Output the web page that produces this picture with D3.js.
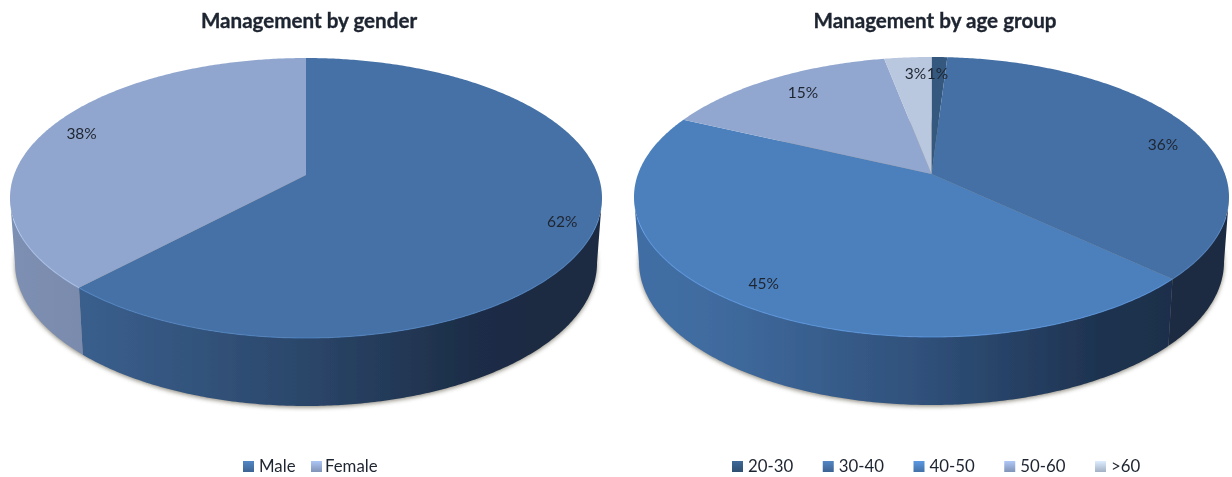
<!DOCTYPE html>
<html><head><meta charset="utf-8">
<script src="https://cdn.jsdelivr.net/npm/d3@7/dist/d3.min.js"></script>
<style>html,body{margin:0;padding:0;background:#fff}svg{display:block}text{font-family:Lato,"Open Sans",sans-serif;fill:#1f2530}</style>
</head><body><svg id="c" width="1232" height="477"></svg>
<script>
const genderCategories = ["Male", "Female"];
const genderValues = [62, 38];
const ageCategories = ["20-30", "30-40", "40-50", "50-60", ">60"];
const ageValues = [1, 36, 45, 15, 3];
const genderColors = ["#4571A6", "#91A6CE"];
const ageColors = ["#34597F", "#4570A5", "#4C80BD", "#92A7CF", "#B9C7DF"];
const genderLabelNudge = [[7, 0], [0, 0]];
const ageLabelNudge = [[-1, 3], [6, 12], [-5, -2], [12, 3], [5, 3]];

const svg = d3.select("#c");
const defs = svg.append("defs");
const blur = defs.append("filter").attr("id","soft").attr("x","-2%").attr("y","-5%").attr("width","104%").attr("height","110%");
blur.append("feGaussianBlur").attr("stdDeviation",0.55);
const sh = defs.append("filter").attr("id","shadow").attr("x","-5%").attr("y","-5%").attr("width","110%").attr("height","110%");
sh.append("feGaussianBlur").attr("stdDeviation",2.2);
const root = svg.append("g").attr("filter","url(#soft)");

const K = 0.164;
function projector(cx, cy, rx, ry) {
  const a = rx * Math.sqrt(1 - K * K);
  return (angle, r = 1) => {
    const u = r * Math.sin(angle), v = -r * Math.cos(angle), w = 1 - K * v;
    return [cx + a * u / w, cy + (ry * v - K * ry) / w];
  };
}
const shadeStops = [[0,.86],[.12,.84],[.3,.74],[.5,.62],[.65,.5],[.78,.4],[.9,.37],[1,.37]];
const line = d3.line();
function samples(a0, a1) {
  const n = Math.max(2, Math.ceil((a1 - a0) / 0.01));
  return d3.range(n + 1).map(i => a0 + (a1 - a0) * i / n);
}
// the part of the rim that faces the viewer: between the two silhouette angles
const rimStart = Math.acos(-K), rimEnd = 2 * Math.PI - Math.acos(-K);

function drawPie(id, title, titleX, values, cats, colors, nudge, geo, legendXs, legendTextXs) {
  const g = root.append("g");
  const top = projector(geo.cx, geo.cy, geo.rx, geo.ry);
  const bot = projector(geo.cx, geo.cyb, geo.rxb, geo.ryb);
  const color = d3.scaleOrdinal(cats, colors);
  const arcs = d3.pie().sort(null)(values);
  const x0 = geo.cx - geo.rx, x1 = geo.cx + geo.rx;

  // drop shadow under the body
  const all = samples(0, 2 * Math.PI);
  g.append("path").attr("d", line(all.map(a => { const p = bot(a); return [p[0], p[1] + 1.5]; })) + "Z")
    .attr("fill", "#6f6a5c").attr("opacity", .75).attr("filter", "url(#shadow)");

  // walls
  arcs.forEach((d, i) => {
    const a0 = Math.max(d.startAngle, rimStart), a1 = Math.min(d.endAngle, rimEnd);
    if (a1 <= a0) return;
    const c = color(cats[i]);
    const gid = `${id}-w${i}`;
    const lg = defs.append("linearGradient").attr("id", gid).attr("gradientUnits", "userSpaceOnUse")
      .attr("x1", x0).attr("x2", x1).attr("y1", 0).attr("y2", 0);
    shadeStops.forEach(([o, f]) => {
      const rgb = d3.rgb(c);
      lg.append("stop").attr("offset", o).attr("stop-color", d3.rgb(rgb.r * f, rgb.g * f, rgb.b * f + (1 - f) * 8).formatHex());
    });
    const s = samples(a0, a1);
    const pts = s.map(a => top(a)).concat(s.slice().reverse().map(a => bot(a)));
    g.append("path").attr("d", line(pts) + "Z").attr("fill", `url(#${gid})`);
  });

  // top faces
  arcs.forEach((d, i) => {
    const s = samples(d.startAngle, d.endAngle);
    const pts = [top(0, 0)].concat(s.map(a => top(a)));
    g.append("path").attr("d", line(pts) + "Z").attr("fill", color(cats[i]));
    const front = s.filter(a => -Math.cos(a) > 0.3);
    if (front.length > 1) {
      g.append("path").attr("d", line(front.map(a => top(a)))).attr("fill", "none")
        .attr("stroke", d3.rgb(color(cats[i])).brighter(0.7)).attr("stroke-width", 1.1).attr("opacity", .6);
    }
  });

  // value labels
  arcs.forEach((d, i) => {
    const p = top((d.startAngle + d.endAngle) / 2, 0.87);
    g.append("text").attr("x", p[0] + nudge[i][0]).attr("y", p[1] + nudge[i][1]).attr("text-anchor", "middle").attr("dy", "0.35em")
      .attr("font-size", 15.5).text(values[i] + "%");
  });

  g.append("text").attr("x", titleX).attr("y", 28).attr("text-anchor", "middle")
    .attr("font-size", 20.6).attr("font-weight", 700).attr("stroke", "#1f2530").attr("stroke-width", 0.35).text(title);

  // legend
  cats.forEach((cat, i) => {
    const sid = `${id}-l${i}`;
    const lg = defs.append("linearGradient").attr("id", sid).attr("x1", 0).attr("x2", 0).attr("y1", 0).attr("y2", 1);
    lg.append("stop").attr("offset", 0).attr("stop-color", d3.rgb(color(cat)).brighter(.5));
    lg.append("stop").attr("offset", 1).attr("stop-color", d3.rgb(color(cat)).darker(.35));
    g.append("rect").attr("x", legendXs(cat)).attr("y", 461).attr("width", 11).attr("height", 11).attr("fill", `url(#${sid})`);
    g.append("text").attr("x", legendTextXs(cat)).attr("y", 471.5).attr("font-size", 16.8).text(cat);
  });
}

const genderSw = d3.scaleOrdinal(genderCategories, [243, 311]);
const ageSw = d3.scalePoint(ageCategories, [732, 1095]);
drawPie("g", "Management by gender", 309, genderValues, genderCategories, genderColors, genderLabelNudge,
  {cx: 306, cy: 198, rx: 296, ry: 140, cyb: 263, rxb: 291, ryb: 143},
  genderSw, c => genderSw(c) + (c === "Male" ? 16 : 14));
drawPie("a", "Management by age group", 935, ageValues, ageCategories, ageColors, ageLabelNudge,
  {cx: 931.5, cy: 197, rx: 297.5, ry: 140, cyb: 262, rxb: 292.5, ryb: 143},
  ageSw, c => ageSw(c) + 16);
</script></body></html>
